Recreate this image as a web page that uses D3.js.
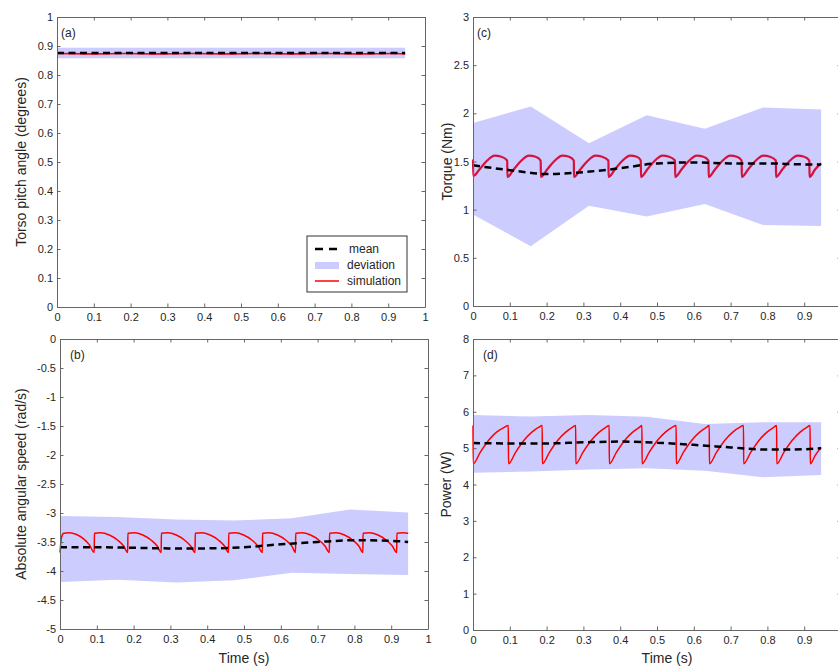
<!DOCTYPE html>
<html>
<head>
<meta charset="utf-8">
<script src="https://cdn.jsdelivr.net/npm/d3@7"></script>
<style>
  body { margin: 0; background: #fff; }
  text { font-family: "Liberation Sans", Arial, sans-serif; fill: #262626; }
</style>
</head>
<body>
<svg id="chart" width="838" height="668"></svg>
<script>
const WIDTH = 838;
const HEIGHT = 668;

// shared time axes
const timeTicks = [0, 0.1, 0.2, 0.3, 0.4, 0.5, 0.6, 0.7, 0.8, 0.9, 1];
const bandTime = [0, 0.157, 0.315, 0.472, 0.63, 0.788, 0.946];
const meanTime = [0, 0.1, 0.2, 0.3, 0.4, 0.5, 0.6, 0.7, 0.8, 0.9, 0.946];

// (a) torso pitch angle
const pitchTicks = [0, 0.1, 0.2, 0.3, 0.4, 0.5, 0.6, 0.7, 0.8, 0.9, 1];
const pitchUpper = [0.894, 0.894, 0.894, 0.894, 0.894, 0.894, 0.894];
const pitchLower = [0.858, 0.858, 0.858, 0.858, 0.858, 0.858, 0.858];
const pitchMean = [0.876, 0.876, 0.876, 0.876, 0.876, 0.876, 0.876, 0.876, 0.876, 0.876, 0.876];
const pitchSim = [
  [0, 0.874], [0.093, 0.873], [0.184, 0.874], [0.275, 0.873], [0.367, 0.874],
  [0.458, 0.873], [0.55, 0.874], [0.64, 0.873], [0.732, 0.874], [0.823, 0.873],
  [0.915, 0.874], [0.946, 0.873]
];

// (b) absolute angular speed
const speedTicks = [-5, -4.5, -4, -3.5, -3, -2.5, -2, -1.5, -1, -0.5, 0];
const speedUpper = [-3.05, -3.07, -3.11, -3.13, -3.09, -2.94, -2.99];
const speedLower = [-4.19, -4.15, -4.2, -4.16, -4.03, -4.05, -4.07];
const speedMean = [-3.59, -3.59, -3.6, -3.61, -3.61, -3.59, -3.54, -3.5, -3.47, -3.48, -3.5];
const speedSim = [
  [0, -3.68], [0.004, -3.42], [0.01, -3.35], [0.025, -3.34], [0.045, -3.37], [0.065, -3.45], [0.08, -3.55], [0.093, -3.68],
  [0.0935, -3.35], [0.111, -3.34], [0.134, -3.38], [0.157, -3.47], [0.173, -3.57], [0.184, -3.68],
  [0.1845, -3.35], [0.202, -3.34], [0.225, -3.38], [0.248, -3.47], [0.264, -3.57], [0.275, -3.68],
  [0.2755, -3.35], [0.293, -3.34], [0.316, -3.38], [0.339, -3.47], [0.355, -3.57], [0.367, -3.68],
  [0.3675, -3.35], [0.385, -3.34], [0.408, -3.38], [0.431, -3.47], [0.447, -3.57], [0.458, -3.68],
  [0.4585, -3.35], [0.476, -3.34], [0.499, -3.38], [0.522, -3.47], [0.538, -3.57], [0.55, -3.68],
  [0.5505, -3.35], [0.568, -3.34], [0.591, -3.38], [0.614, -3.47], [0.63, -3.57], [0.64, -3.68],
  [0.6405, -3.35], [0.658, -3.34], [0.681, -3.38], [0.704, -3.47], [0.72, -3.57], [0.732, -3.68],
  [0.7325, -3.35], [0.75, -3.34], [0.773, -3.38], [0.796, -3.47], [0.812, -3.57], [0.823, -3.68],
  [0.8235, -3.35], [0.841, -3.34], [0.864, -3.38], [0.887, -3.47], [0.903, -3.57], [0.915, -3.68],
  [0.9155, -3.35], [0.933, -3.34], [0.946, -3.35]
];

// (c) torque
const torqueTicks = [0, 0.5, 1, 1.5, 2, 2.5, 3];
const torqueUpper = [1.9, 2.07, 1.69, 1.98, 1.84, 2.06, 2.04];
const torqueLower = [0.95, 0.62, 1.04, 0.93, 1.06, 0.84, 0.83];
const torqueMean = [1.46, 1.41, 1.37, 1.39, 1.43, 1.48, 1.49, 1.48, 1.48, 1.47, 1.47];
const torqueSim = [
  [0, 1.52], [0.0005, 1.35], [0.018, 1.42], [0.036, 1.5], [0.059, 1.56], [0.077, 1.55], [0.093, 1.51],
  [0.0935, 1.34], [0.111, 1.42], [0.129, 1.5], [0.152, 1.56], [0.17, 1.55], [0.184, 1.51],
  [0.1845, 1.34], [0.202, 1.42], [0.22, 1.5], [0.243, 1.56], [0.261, 1.55], [0.274, 1.51],
  [0.2745, 1.34], [0.292, 1.42], [0.31, 1.5], [0.333, 1.56], [0.351, 1.55], [0.368, 1.51],
  [0.3685, 1.34], [0.386, 1.42], [0.404, 1.5], [0.427, 1.56], [0.445, 1.55], [0.456, 1.51],
  [0.4565, 1.34], [0.474, 1.42], [0.492, 1.5], [0.515, 1.56], [0.533, 1.55], [0.549, 1.51],
  [0.5495, 1.34], [0.567, 1.42], [0.585, 1.5], [0.608, 1.56], [0.626, 1.55], [0.64, 1.51],
  [0.6405, 1.34], [0.658, 1.42], [0.676, 1.5], [0.699, 1.56], [0.717, 1.55], [0.73, 1.51],
  [0.7305, 1.34], [0.748, 1.42], [0.766, 1.5], [0.789, 1.56], [0.807, 1.55], [0.823, 1.51],
  [0.8235, 1.34], [0.841, 1.42], [0.859, 1.5], [0.882, 1.56], [0.9, 1.55], [0.914, 1.51],
  [0.9145, 1.34], [0.93, 1.42], [0.946, 1.48]
];

// (d) power
const powerTicks = [0, 1, 2, 3, 4, 5, 6, 7, 8];
const powerUpper = [5.91, 5.87, 5.91, 5.86, 5.66, 5.71, 5.71];
const powerLower = [4.32, 4.36, 4.41, 4.45, 4.38, 4.2, 4.26];
const powerMean = [5.14, 5.13, 5.13, 5.16, 5.18, 5.15, 5.09, 5.02, 4.96, 4.97, 5.0];
const powerSim = [
  [0, 5.62], [0.0005, 4.57], [0.02, 4.89], [0.042, 5.21], [0.064, 5.44], [0.085, 5.57], [0.096, 5.62],
  [0.0965, 4.57], [0.116, 4.89], [0.138, 5.21], [0.16, 5.44], [0.178, 5.57], [0.188, 5.62],
  [0.1885, 4.57], [0.208, 4.89], [0.23, 5.21], [0.252, 5.44], [0.27, 5.57], [0.279, 5.62],
  [0.2795, 4.57], [0.299, 4.89], [0.321, 5.21], [0.343, 5.44], [0.361, 5.57], [0.37, 5.62],
  [0.3705, 4.57], [0.39, 4.89], [0.412, 5.21], [0.434, 5.44], [0.452, 5.57], [0.459, 5.62],
  [0.4595, 4.57], [0.479, 4.89], [0.501, 5.21], [0.523, 5.44], [0.541, 5.57], [0.552, 5.62],
  [0.5525, 4.57], [0.572, 4.89], [0.594, 5.21], [0.616, 5.44], [0.634, 5.57], [0.642, 5.62],
  [0.6425, 4.57], [0.662, 4.89], [0.684, 5.21], [0.706, 5.44], [0.724, 5.57], [0.735, 5.62],
  [0.7355, 4.57], [0.755, 4.89], [0.777, 5.21], [0.799, 5.44], [0.817, 5.57], [0.825, 5.62],
  [0.8255, 4.57], [0.845, 4.89], [0.867, 5.21], [0.889, 5.44], [0.907, 5.57], [0.916, 5.62],
  [0.9165, 4.57], [0.93, 4.8], [0.946, 5.02]
];

const legendItems = ["mean", "deviation", "simulation"];

const BAND_COLOR = "#ccccff";
const AXIS_COLOR = "#666";
const TICK = 3.5;

const panels = [
  { tag: "(a)", left: 57, right: 425, top: 17, bottom: 307, yDomain: [0, 1], yTicks: pitchTicks,
    upper: pitchUpper, lower: pitchLower, mean: pitchMean, sim: pitchSim,
    simColor: "#ff0000", simWidth: 1.6, yLabel: "Torso pitch angle (degrees)", yLabelX: 26,
    tagDx: 4, xLabel: null, legend: true },
  { tag: "(b)", left: 60, right: 428, top: 339, bottom: 629, yDomain: [-5, 0], yTicks: speedTicks,
    upper: speedUpper, lower: speedLower, mean: speedMean, sim: speedSim,
    simColor: "#ff0000", simWidth: 1.5, yLabel: "Absolute angular speed (rad/s)", yLabelX: 26,
    tagDx: 10, xLabel: { x: 244, y: 663 }, legend: false },
  { tag: "(c)", left: 473, right: 841, top: 17, bottom: 306, yDomain: [0, 3], yTicks: torqueTicks,
    upper: torqueUpper, lower: torqueLower, mean: torqueMean, sim: torqueSim,
    simColor: "#d4123c", simWidth: 2.2, yLabel: "Torque (Nm)", yLabelX: 452,
    tagDx: 4, xLabel: null, legend: false },
  { tag: "(d)", left: 473, right: 841, top: 339, bottom: 630, yDomain: [0, 8], yTicks: powerTicks,
    upper: powerUpper, lower: powerLower, mean: powerMean, sim: powerSim,
    simColor: "#ff0000", simWidth: 1.5, yLabel: "Power (W)", yLabelX: 451,
    tagDx: 10, xLabel: { x: 667, y: 663 }, legend: false }
];

const svg = d3.select("#chart").attr("viewBox", `0 0 ${WIDTH} ${HEIGHT}`);
const fmt = (d) => String(+d.toFixed(2));

const styleAxis = (g) => {
  g.attr("font-family", '"Liberation Sans", Arial, sans-serif').attr("font-size", 11);
  g.select(".domain").attr("stroke", AXIS_COLOR);
  g.selectAll(".tick line").attr("stroke", AXIS_COLOR);
  g.selectAll(".tick text").attr("fill", "#262626");
};

panels.forEach((p) => {
  const x = d3.scaleLinear().domain([0, 1]).range([p.left, p.right]);
  const y = d3.scaleLinear().domain(p.yDomain).range([p.bottom, p.top]);
  const g = svg.append("g");
  // labels whose tick falls past the picture edge are cut off in the original
  const xFmt = (d) => (x(d) > WIDTH - 4 ? "" : fmt(d));

  const band = bandTime.map((t, i) => ({ t, lo: p.lower[i], hi: p.upper[i] }));
  g.append("path")
    .datum(band)
    .attr("fill", BAND_COLOR)
    .attr("d", d3.area().x((d) => x(d.t)).y0((d) => y(d.lo)).y1((d) => y(d.hi)));

  g.append("path")
    .datum(p.sim)
    .attr("fill", "none")
    .attr("stroke", p.simColor)
    .attr("stroke-width", p.simWidth)
    .attr("stroke-linejoin", "round")
    .attr("d", d3.line().x((d) => x(d[0])).y((d) => y(d[1])).curve(d3.curveMonotoneX));

  g.append("path")
    .datum(meanTime.map((t, i) => [t, p.mean[i]]))
    .attr("fill", "none")
    .attr("stroke", "#000")
    .attr("stroke-width", 2.5)
    .attr("stroke-dasharray", "7,4.5")
    .attr("d", d3.line().x((d) => x(d[0])).y((d) => y(d[1])).curve(d3.curveMonotoneX));

  g.append("g")
    .attr("transform", `translate(0,${p.bottom})`)
    .call(d3.axisBottom(x).tickValues(timeTicks).tickFormat(xFmt).tickSize(-TICK).tickSizeOuter(0).tickPadding(6))
    .call(styleAxis);
  g.append("g")
    .attr("transform", `translate(0,${p.top})`)
    .call(d3.axisTop(x).tickValues(timeTicks).tickFormat("").tickSize(-TICK).tickSizeOuter(0))
    .call(styleAxis);
  g.append("g")
    .attr("transform", `translate(${p.left},0)`)
    .call(d3.axisLeft(y).tickValues(p.yTicks).tickFormat(fmt).tickSize(-TICK).tickSizeOuter(0).tickPadding(4))
    .call(styleAxis);
  g.append("g")
    .attr("transform", `translate(${p.right},0)`)
    .call(d3.axisRight(y).tickValues(p.yTicks).tickFormat("").tickSize(-TICK).tickSizeOuter(0))
    .call(styleAxis);

  g.append("text")
    .attr("x", p.left + p.tagDx)
    .attr("y", p.top + 20)
    .attr("font-size", 12)
    .text(p.tag);

  g.append("text")
    .attr("transform", `translate(${p.yLabelX},${(p.top + p.bottom) / 2}) rotate(-90)`)
    .attr("text-anchor", "middle")
    .attr("font-size", 14)
    .text(p.yLabel);

  if (p.xLabel) {
    g.append("text")
      .attr("x", p.xLabel.x)
      .attr("y", p.xLabel.y)
      .attr("text-anchor", "middle")
      .attr("font-size", 14)
      .text("Time (s)");
  }

  if (p.legend) {
    const lg = g.append("g").attr("transform", "translate(307,236)");
    lg.append("rect")
      .attr("width", 100).attr("height", 56)
      .attr("fill", "#fff").attr("stroke", "#333").attr("stroke-width", 1);
    const rowY = (i) => 13 + i * 16;
    lg.append("line")
      .attr("x1", 8).attr("x2", 32).attr("y1", rowY(0)).attr("y2", rowY(0))
      .attr("stroke", "#000").attr("stroke-width", 2.5).attr("stroke-dasharray", "8,6");
    lg.append("rect")
      .attr("x", 8).attr("y", rowY(1) - 3).attr("width", 24).attr("height", 7)
      .attr("fill", BAND_COLOR);
    lg.append("line")
      .attr("x1", 8).attr("x2", 32).attr("y1", rowY(2)).attr("y2", rowY(2))
      .attr("stroke", "#ff0000").attr("stroke-width", 1.5);
    lg.selectAll("text.item")
      .data(legendItems)
      .join("text")
      .attr("class", "item")
      .attr("x", (d, i) => (i === 0 ? 42 : 40))
      .attr("y", (d, i) => rowY(i) + 4)
      .attr("font-size", 12)
      .text((d) => d);
  }
});
</script>
</body>
</html>
